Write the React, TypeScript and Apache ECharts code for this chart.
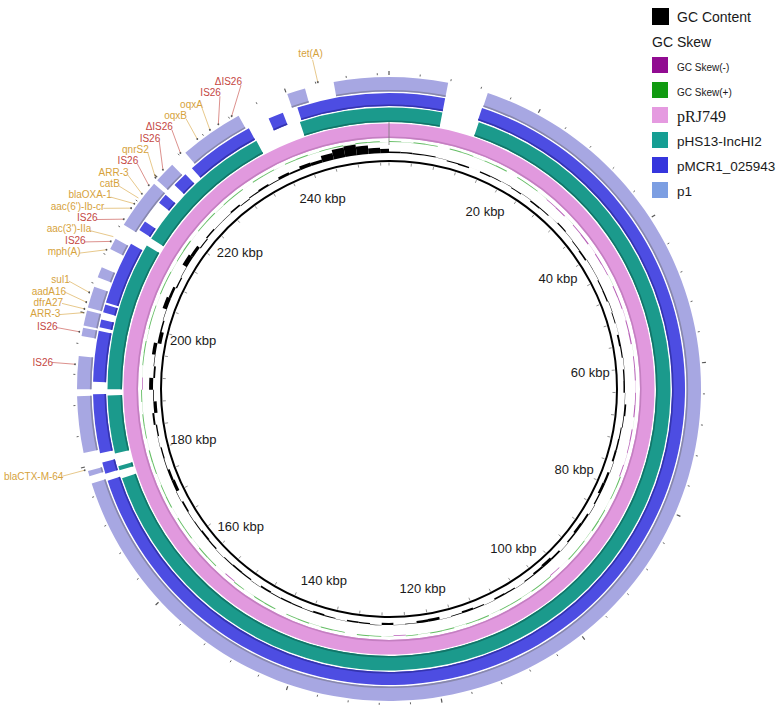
import React, { useEffect, useRef } from 'react';
import * as echarts from 'echarts';

// ---------- data ----------
const GENOME_KBP = 253.5;
const WINDOW_KBP = 2;

const scaleLabelPositions = [20, 40, 60, 80, 100, 120, 140, 160, 180, 200, 220, 240];
const tickLabels = ['20 kbp', '40 kbp', '60 kbp', '80 kbp', '100 kbp', '120 kbp', '140 kbp', '160 kbp', '180 kbp', '200 kbp', '220 kbp', '240 kbp'];
const minorTickPositions = [0, 4, 8, 12, 16, 20, 24, 28, 32, 36, 40, 44, 48, 52, 56, 60, 64, 68, 72, 76, 80, 84, 88, 92, 96, 100, 104, 108, 112, 116, 120, 124, 128, 132, 136, 140, 144, 148, 152, 156, 160, 164, 168, 172, 176, 180, 184, 188, 192, 196, 200, 204, 208, 212, 216, 220, 224, 228, 232, 236, 240, 244, 248, 252];

const ringNames = ['pRJ749', 'pHS13-IncHI2', 'pMCR1_025943', 'p1'];
const pRJ749Segments = [[0, 253.5]];
const pHS13Segments = [[0, 7.7], [13.1, 177.1], [178.3, 178.9], [180.8, 189.2], [190.1, 211.7], [212.9, 233.7], [240.5, 253.5]];
const pMCR1Segments = [[0, 7.7], [12.9, 177.4], [178.4, 180.0], [181.3, 189.4], [191.1, 198.1], [198.6, 199.7], [200.7, 201.8], [202.1, 210.8], [213.0, 214.4], [217.6, 219.0], [220.8, 222.9], [224.1, 233.6], [236.6, 238.7], [240.8, 253.5]];
const p1Segments = [[0, 7.7], [13.0, 177.7], [178.7, 179.4], [181.8, 189.2], [190.1, 194.4], [197.0, 198.1], [198.4, 200.4], [200.8, 203.6], [204.9, 206.3], [208.9, 210.4], [212.5, 219.1], [219.7, 222.5], [224.8, 233.2], [240.1, 242.5], [246.3, 253.5]];

// GC content deviation from mean (%), 2 kbp windows
const gcContent = [
  1.0, 0.9, 0.7, 0.8, 0.2, -0.7, -0.9, 0.1, -0.8, -0.5, 0.2,
  -0.7, 0.2, -0.9, -0.6, 0.1, 0.8, 0.2, -0.6, -1.1, 0.3,
  0.2, -0.7, -0.9, 0.3, -0.6, 0.1, -1.3, -0.8, 0.2, -0.9, -1.0, 0.2, 1.2, 0.5, -0.7,
  -1.0, -1.3, 0.3, -1.5, -1.9, -0.9, 0.3, -1.3, -1.7, -1.0, 0.2, -1.2, -2.0, -1.4, -0.7,
  0.2, -0.8, -1.1, 0.2, -0.7, -1.4, -0.5, 0.2, -1.8, -1.6, -0.4, 0.2, -1.4, 0.3, -0.8, -1.0, 0.2, -0.6, -1.2, -0.4,
  -0.7, -0.9, -0.5, -1.1, 0.2, -0.8, -1.0, -0.6, 0.2, -0.9, -1.3, -0.7, -0.4, -1.1, 0.3, -2.2, -1.6, -0.5, -0.9, 0.2,
  -0.9, 1.3, -2.2, -0.5, 2.6, -1.2, 0.4, 2.4, -2.6, -1.0, 0.3, 3.0, 1.8, -0.9, 0.3, 3.4, 2.2, -0.7, 1.0, 0.3,
  0.4, 1.1, -0.5, 0.7, 1.3, 0.5, 1.9, 1.2, 2.6, 2.1, 4.5, 6.5, 7.2, 5.6, 3.6, 2.8
];

// GC skew, 2 kbp windows
const gcSkew = [
  0.9, 0.2, 1.0, 0.8, 0.1, 1.1, 0.9, 0.2, 0.8, 1.0, 0.1, 0.9, 0.7, 0.2,
  -0.8, -1.0, 0.1, -0.9, -1.2, -0.2, -1.0, -0.8, 0.1, -1.1, -0.9, -0.2, -1.0, -1.2, 0.1, -0.9, -1.0, -0.2, -0.8, -1.1, 0.1, -1.0, -0.7, -0.2, -0.9,
  1.0, 0.8, 0.1, 0.9, 1.1, 0.2, 0.8, 1.0, 0.1, -0.7, 0.9, 1.0, 0.2, 0.8, 0.9, 0.1, 1.1, 0.8, 0.2, 0.9,
  1.0, 0.1, 0.8, -0.6, 0.2, 0.9, 1.0, 0.1, 0.8, 1.1, 0.2, 0.9, 0.8, 0.1, 1.0, 0.9, 0.2, 0.8, -0.8, 0.1,
  0.9, 1.0, 0.2, 0.8, 0.9, 0.1, 1.0, 0.8, 0.2, 0.9, 1.1, 0.1, 0.8, 1.0, 0.2, 0.9, -0.7, 0.1, 0.8, 1.0,
  0.2, 0.9, 0.8, 0.1, 1.0, 0.9, 0.2, 0.8, 1.1, 0.1, 0.9, 1.0, 0.2, 0.8, 0.9, 0.1, 1.0, 0.8, 0.2, 0.9,
  1.0, 0.1, 0.8, 0.9, 0.2, 1.0, 0.8, 0.1
];

const geneNames = ['tet(A)', 'ΔIS26', 'IS26', 'oqxA', 'oqxB', 'ΔIS26', 'IS26', 'qnrS2', 'IS26', 'ARR-3', 'catB', 'blaOXA-1', "aac(6')-Ib-cr", 'IS26', "aac(3')-IIa", 'IS26', 'mph(A)', 'sul1', 'aadA16', 'dfrA27', 'ARR-3', 'IS26', 'IS26', 'blaCTX-M-64'];
const genePositions = [244.3, 232.4, 230.4, 229.1, 227.1, 224.3, 221.2, 219.8, 218.5, 217.1, 216.4, 215.5, 214.8, 213.1, 210.5, 209.8, 208.6, 202.7, 201.4, 200.5, 200.0, 197.5, 193.3, 179.6];
const geneKinds = ['res', 'IS', 'IS', 'res', 'res', 'IS', 'IS', 'res', 'IS', 'res', 'res', 'res', 'res', 'IS', 'res', 'IS', 'res', 'res', 'res', 'res', 'res', 'IS', 'IS', 'res'];

const legendLabels = ['GC Content', 'GC Skew', 'GC Skew(-)', 'GC Skew(+)', 'pRJ749', 'pHS13-IncHI2', 'pMCR1_025943', 'p1'];

// ---------- styling / layout ----------
const CENTER = [389, 389];
const SANS = '"Liberation Sans", Arial, Helvetica, sans-serif';
const SERIF = '"Liberation Serif", "Times New Roman", serif';
const RING_STYLE = [
  { r0: 251, r1: 265.5, fill: '#e199de', edge: '#c47fc1' },
  { r0: 267, r1: 281.5, fill: '#1b9a8c', edge: '#127569' },
  { r0: 283, r1: 296, fill: '#4d4de2', edge: '#3434ae' },
  { r0: 297.5, r1: 312, fill: '#a7a7e2', edge: '#8888ac' },
];
const BACKBONE_R = 228;
const GC_BASE = 236;
const GC_SCALE = 1.5;
const SKEW_BASE = 247;
const SKEW_SCALE = 1.0;
const SCALE_LABEL_R = 202;
const LEADER_R = 315;
const LABEL_R = 338;
const LABEL_GAP = 11.2;
const COLOR_IS = '#c4463f';
const COLOR_RES = '#d6a23c';

function rad(api: any, cx: number, cy: number, r: number) {
  const p = api.coord([r, 0]);
  return Math.hypot(p[0] - cx, p[1] - cy);
}
function ang(api: any, cx: number, cy: number, v: number) {
  const p = api.coord([300, v]);
  return Math.atan2(p[1] - cy, p[0] - cx);
}
function arcAngles(api: any, cx: number, cy: number, s: number, e: number) {
  const a0 = ang(api, cx, cy, s);
  let a1 = ang(api, cx, cy, e);
  if (e - s >= GENOME_KBP - 1e-6) a1 = a0 + Math.PI * 2;
  else while (a1 <= a0) a1 += Math.PI * 2;
  return [a0, a1];
}

function ringRenderer(k: number) {
  const st = RING_STYLE[k];
  return (params: any, api: any) => {
    const cx = params.coordSys.cx, cy = params.coordSys.cy;
    const [a0, a1] = arcAngles(api, cx, cy, api.value(0), api.value(1));
    const r0 = rad(api, cx, cy, st.r0), r1 = rad(api, cx, cy, st.r1);
    return {
      type: 'group',
      children: [
        { type: 'sector', shape: { cx, cy, r0, r: r1, startAngle: a0, endAngle: a1, clockwise: true }, style: { fill: st.fill } },
        { type: 'sector', shape: { cx, cy, r0, r: r0 + 1.6, startAngle: a0, endAngle: a1, clockwise: true }, style: { fill: st.edge } },
      ],
    };
  };
}

function barRenderer(base: number, scale: number, pos: string, neg: string, opacity: number) {
  return (params: any, api: any) => {
    const cx = params.coordSys.cx, cy = params.coordSys.cy;
    const v = api.value(2);
    const [a0, a1] = arcAngles(api, cx, cy, api.value(0), api.value(1));
    const ra = rad(api, cx, cy, base), rb = rad(api, cx, cy, base + v * scale);
    return {
      type: 'sector',
      shape: { cx, cy, r0: Math.min(ra, rb), r: Math.max(ra, rb), startAngle: a0, endAngle: a1, clockwise: true },
      style: { fill: v >= 0 ? pos : neg, opacity },
    };
  };
}

function backboneRenderer(params: any, api: any) {
  const cx = params.coordSys.cx, cy = params.coordSys.cy;
  return {
    type: 'circle',
    shape: { cx, cy, r: rad(api, cx, cy, BACKBONE_R) },
    style: { fill: 'none', stroke: '#000', lineWidth: 2 },
  };
}

function tickRenderer(params: any, api: any) {
  const v = api.value(0);
  const major = v % 20 === 0;
  const seg = (r1: number, r2: number, w: number, c: string) => {
    const p1 = api.coord([r1, v]), p2 = api.coord([r2, v]);
    return { type: 'line', shape: { x1: p1[0], y1: p1[1], x2: p2[0], y2: p2[1] }, style: { stroke: c, lineWidth: w } };
  };
  const children: any[] = [
    seg(314, major ? 318 : 316, major ? 1.2 : 0.9, '#555'),
    seg(223.5, 226.5, 0.8, '#777'),
  ];
  if (v === 0) children.push(seg(244, 267, 0.8, '#777'));
  return { type: 'group', children };
}

function scaleLabelRenderer(params: any, api: any) {
  const v = api.value(0);
  const p = api.coord([SCALE_LABEL_R, v]);
  return {
    type: 'text',
    x: p[0], y: p[1],
    style: {
      text: tickLabels[params.dataIndex], fill: '#1a1a1a', font: '13px ' + SANS,
      align: 'center', verticalAlign: 'middle', textAlign: 'center', textVerticalAlign: 'middle',
    },
  };
}

function geneRenderer(params: any, api: any) {
  const cx = params.coordSys.cx, cy = params.coordSys.cy;
  const R = rad(api, cx, cy, LABEL_R);
  const anchors = genePositions.map((pos, i) => {
    const p = api.coord([LABEL_R, pos]);
    return { i, x: p[0], y: p[1], side: p[0] < cx - 100 };
  });
  const side = anchors.filter((a) => a.side).sort((a, b) => a.y - b.y);
  const ys = side.map((a) => a.y);
  for (let it = 0; it < 500; it++) {
    for (let k = 1; k < ys.length; k++) {
      const d = ys[k] - ys[k - 1];
      if (d < LABEL_GAP) {
        const s = (LABEL_GAP - d) / 2;
        ys[k] += s;
        ys[k - 1] -= s;
      }
    }
  }
  side.forEach((a, k) => {
    a.y = ys[k];
    a.x = cx - Math.sqrt(Math.max(0, R * R - (ys[k] - cy) * (ys[k] - cy)));
  });
  const idx = params.dataIndex;
  const a = anchors[idx];
  const inner = api.coord([LEADER_R, genePositions[idx]]);
  const color = geneKinds[idx] === 'IS' ? COLOR_IS : COLOR_RES;
  let tx, ty, align, valign;
  if (a.side) {
    tx = a.x + 1;
    ty = a.y - 4 * Math.max(0, Math.min(1, (cy - a.y) / R));
    align = 'right';
    valign = 'middle';
  } else {
    tx = a.x - 2;
    ty = a.y - 1;
    align = 'center';
    valign = 'bottom';
  }
  return {
    type: 'group',
    children: [
      { type: 'line', shape: { x1: inner[0], y1: inner[1], x2: a.x, y2: a.y }, style: { stroke: color, lineWidth: 0.8, opacity: 0.75 } },
      { type: 'circle', shape: { cx: inner[0], cy: inner[1], r: 0.9 }, style: { fill: '#555' } },
      {
        type: 'text', x: tx, y: ty,
        style: { text: geneNames[idx], fill: color, font: '10px ' + SANS, align, verticalAlign: valign, textAlign: align, textVerticalAlign: valign },
      },
    ],
  };
}

function buildLegend() {
  const els: any[] = [];
  const sq = (y: number, fill: string, size = 16) => ({ type: 'rect', shape: { x: 652, y, width: size, height: size }, style: { fill } });
  const tx = (text: string, x: number, y: number, font: string) => ({
    type: 'text', x, y,
    style: { text, fill: '#1a1a1a', font, align: 'left', verticalAlign: 'middle', textAlign: 'left', textVerticalAlign: 'middle' },
  });
  els.push(sq(8, '#000000', 17));
  els.push(tx(legendLabels[0], 677, 17, '14px ' + SANS));
  els.push(tx(legendLabels[1], 652, 42, '14px ' + SANS));
  els.push(sq(57, '#910b91'));
  els.push(tx(legendLabels[2], 677, 67, '10px ' + SANS));
  els.push(sq(82, '#119a11'));
  els.push(tx(legendLabels[3], 677, 92, '10px ' + SANS));
  els.push(sq(107, '#e59ae0'));
  els.push(tx(legendLabels[4], 677, 116, '16px ' + SERIF));
  els.push(sq(132, '#169e93'));
  els.push(tx(legendLabels[5], 677, 141, '13.5px ' + SANS));
  els.push(sq(157, '#3535dd'));
  els.push(tx(legendLabels[6], 677, 166, '13.5px ' + SANS));
  els.push(sq(182, '#7c9ee2'));
  els.push(tx(legendLabels[7], 677, 191, '13.5px ' + SANS));
  return els;
}

export default function App() {
  const ref = useRef<HTMLDivElement>(null);
  useEffect(() => {
    if (!ref.current) return;
    const chart = echarts.init(ref.current, undefined, { renderer: 'svg' });
    const windows = (arr: number[]) => arr.map((v, i) => [i * WINDOW_KBP, Math.min((i + 1) * WINDOW_KBP, GENOME_KBP), v]);
    const ringData = [pRJ749Segments, pHS13Segments, pMCR1Segments, p1Segments];
    const option: any = {
      animation: false,
      backgroundColor: '#ffffff',
      polar: { center: CENTER, radius: 360 },
      angleAxis: { type: 'value', min: 0, max: GENOME_KBP, startAngle: 90, clockwise: true, show: false },
      radiusAxis: { type: 'value', min: 0, max: 360, show: false },
      graphic: { elements: buildLegend() },
      series: [
        ...ringData.map((segs, k) => ({
          type: 'custom', name: ringNames[k], coordinateSystem: 'polar', silent: true,
          data: segs.map((s) => [s[0], s[1]]), renderItem: ringRenderer(k),
        })),
        { type: 'custom', name: 'Backbone', coordinateSystem: 'polar', silent: true, data: [[0, 0]], renderItem: backboneRenderer },
        { type: 'custom', name: 'GC Content', coordinateSystem: 'polar', silent: true, data: windows(gcContent), renderItem: barRenderer(GC_BASE, GC_SCALE, '#000000', '#000000', 1) },
        { type: 'custom', name: 'GC Skew', coordinateSystem: 'polar', silent: true, data: windows(gcSkew), renderItem: barRenderer(SKEW_BASE, SKEW_SCALE, '#119a11', '#910b91', 0.65) },
        { type: 'custom', name: 'Ticks', coordinateSystem: 'polar', silent: true, data: minorTickPositions.map((v) => [v, 0]), renderItem: tickRenderer },
        { type: 'custom', name: 'Scale', coordinateSystem: 'polar', silent: true, data: scaleLabelPositions.map((v) => [v, 0]), renderItem: scaleLabelRenderer },
        { type: 'custom', name: 'Genes', coordinateSystem: 'polar', silent: true, data: genePositions.map((v, i) => [v, i]), renderItem: geneRenderer },
      ],
    };
    chart.setOption(option);
    return () => chart.dispose();
  }, []);
  return <div ref={ref} style={{ position: 'absolute', left: 0, top: 0, width: 778, height: 715, background: '#fff' }} />;
}
